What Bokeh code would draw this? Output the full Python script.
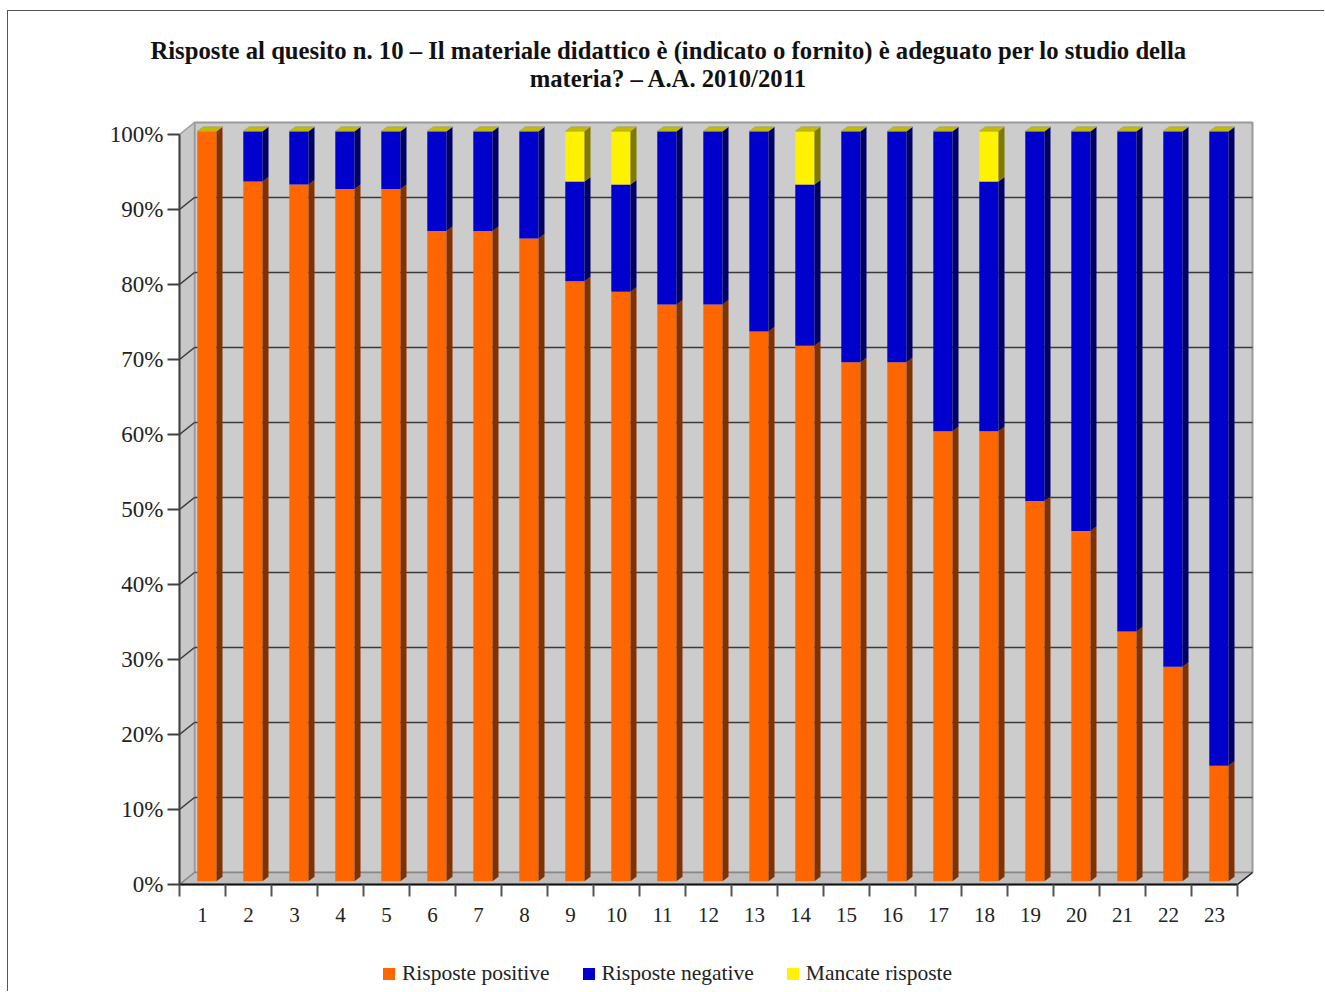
import numpy as np
from bokeh.plotting import figure
from bokeh.layouts import column
from bokeh.models import Range1d, FixedTicker, Label, Legend, LegendItem
from bokeh.embed import file_html
from bokeh.resources import INLINE

# ---------------- data ----------------
categories = list(range(1, 24))
positive = [100.0, 93.3, 92.9, 92.3, 92.3, 86.7, 86.7, 85.7, 80.0, 78.6, 76.9, 76.9,
            73.3, 71.4, 69.2, 69.2, 60.0, 60.0, 50.7, 46.7, 33.3, 28.6, 15.4]
negative = [0.0, 6.7, 7.1, 7.7, 7.7, 13.3, 13.3, 14.3, 13.3, 14.3, 23.1, 23.1,
            26.7, 21.5, 30.8, 30.8, 40.0, 33.3, 49.3, 53.3, 66.7, 71.4, 84.6]
missing = [0.0, 0.0, 0.0, 0.0, 0.0, 0.0, 0.0, 0.0, 6.7, 7.1, 0.0, 0.0,
           0.0, 7.1, 0.0, 0.0, 0.0, 6.7, 0.0, 0.0, 0.0, 0.0, 0.0]
series_names = ["Risposte positive", "Risposte negative", "Mancate risposte"]
y_ticks = [0, 10, 20, 30, 40, 50, 60, 70, 80, 90, 100]
y_tick_labels = [f"{v}%" for v in y_ticks]
title_lines = ["Risposte al quesito n. 10 \u2013 Il materiale didattico è (indicato o fornito) è adeguato per lo studio della",
               "materia? \u2013 A.A. 2010/2011"]

# ---------------- styling / geometry ----------------
FONT = "Liberation Serif"
front_cols = ["#FF6600", "#0000CC", "#FFF200"]
side_cols = ["#803300", "#000066", "#807900"]
cap_col = "#C4BA00"

PXX = 46.0   # px per category
PXY = 7.5    # px per percent
ORG_X, ORG_Y = 8, 11          # page position of the canvas origin
AXIS_X, AXIS_Y = 179, 884     # page position of the front axes corner
TICK_LEN = 12                 # x tick length below the front edge
W = 1316
H_MAIN, H_LEG = 927, 53
ML, MR, MT, MB = 90, 62, 3, 42
frame_w = W - ML - MR
frame_h = H_MAIN - MT - MB

DX, DY = 15 / PXX, 12 / PXY          # wall depth
FDX, FDY = 4.4 / PXX, 3.3 / PXY      # bar front face offset
SDX, SDY = 6 / PXX, 4.5 / PXY        # bar depth
HW = 9.6 / PXX                        # half bar width

n = len(categories)
x0, x1 = 0.5, n + 0.5
xstart = x0 - (AXIS_X - ORG_X - ML) / PXX
ystart = -TICK_LEN / PXY

p = figure(width=W, height=H_MAIN, output_backend="svg", toolbar_location=None,
           x_range=Range1d(xstart, xstart + frame_w / PXX),
           y_range=Range1d(ystart, ystart + frame_h / PXY),
           min_border_left=ML, min_border_right=MR, min_border_top=MT, min_border_bottom=MB,
           background_fill_color="white", border_fill_color="white",
           outline_line_color=None)
p.grid.visible = False

# walls
p.quad(left=[x0 + DX], right=[x1 + DX], bottom=[DY], top=[100 + DY],
       fill_color="#CCCCCC", line_color="#999999", line_width=2)
p.patch([x0, x0, x0 + DX, x0 + DX], [0, 100, 100 + DY, DY],
        fill_color="#C8C8C8", line_color="#999999", line_width=1.5)
p.patch([x0, x1, x1 + DX, x0 + DX], [0, 0, DY, DY],
        fill_color="#BEBEBE", line_color="#888888", line_width=1.5)
p.segment(x0=[x1], y0=[0], x1=[x1 + DX], y1=[DY], line_color="#222222", line_width=1.5)
# front edge of the floor (category axis line)
p.segment(x0=[x0], y0=[0], x1=[x1], y1=[0], line_color="#111111", line_width=2)

# gridlines (back wall + side wall)
gt = [v for v in y_ticks if 0 < v < 100]
p.segment(x0=[x0 + DX] * len(gt), y0=[v + DY for v in gt],
          x1=[x1 + DX] * len(gt), y1=[v + DY for v in gt],
          line_color="#3A3A3A", line_width=1.6)
p.segment(x0=[x0] * len(gt), y0=gt, x1=[x0 + DX] * len(gt), y1=[v + DY for v in gt],
          line_color="#3A3A3A", line_width=1.6)

# bars
xc = np.array(categories, dtype=float)
vals = [np.array(positive), np.array(negative), np.array(missing)]
bottom = np.zeros(n)
for k, v in enumerate(vals):
    top = bottom + v
    L = xc - HW + FDX
    R = xc + HW + FDX
    p.quad(left=L, right=R, bottom=bottom + FDY, top=top + FDY,
           fill_color=front_cols[k], line_color=None)
    xs, ys = [], []
    for i in range(n):
        if v[i] <= 0:
            continue
        xs.append([R[i], R[i] + SDX, R[i] + SDX, R[i]])
        ys.append([bottom[i] + FDY, bottom[i] + FDY + SDY, top[i] + FDY + SDY, top[i] + FDY])
    if xs:
        p.patches(xs, ys, fill_color=side_cols[k], line_color=None)
    bottom = top

# top caps
L = xc - HW + FDX
R = xc + HW + FDX
p.patches([[L[i], R[i], R[i] + SDX, L[i] + SDX] for i in range(n)],
          [[bottom[i] + FDY, bottom[i] + FDY, bottom[i] + FDY + SDY, bottom[i] + FDY + SDY] for i in range(n)],
          fill_color=cap_col, line_color="#9A9A60", line_width=0.5)

# axes
ya = p.yaxis[0]
ya.fixed_location = x0
ya.ticker = FixedTicker(ticks=y_ticks)
ya.major_label_overrides = {t: l for t, l in zip(y_ticks, y_tick_labels)}
ya.bounds = (0, 100)
ya.axis_line_color = "#404040"
ya.axis_line_width = 2
ya.major_tick_line_color = "#404040"
ya.major_tick_line_width = 2
ya.major_tick_out = 12
ya.major_tick_in = 0
ya.minor_tick_line_color = None
ya.major_label_standoff = 4
ya.major_label_text_font = FONT
ya.major_label_text_font_size = "23px"
ya.major_label_text_color = "#222222"

xa = p.xaxis[0]
xa.ticker = FixedTicker(ticks=categories, minor_ticks=[c - 0.5 for c in categories] + [categories[-1] + 0.5])
xa.bounds = (x0, x1)
xa.axis_line_color = None
xa.major_tick_line_color = None
xa.major_tick_out = 0
xa.major_tick_in = 0
xa.minor_tick_line_color = "#555555"
xa.minor_tick_line_width = 2
xa.minor_tick_out = 0
xa.minor_tick_in = TICK_LEN
xa.major_label_standoff = 11
xa.major_label_text_font = FONT
xa.major_label_text_font_size = "21px"
xa.major_label_text_color = "#222222"

# title (inside the extended frame, above the chart)
cx = x0 + (668 - AXIS_X) / PXX
for j, line in enumerate(title_lines):
    p.add_layout(Label(x=cx, y=(AXIS_Y - (50 + 28 * j)) / PXY, text=line,
                       text_font=FONT, text_font_style="bold", text_font_size="24.7px",
                       text_align="center", text_baseline="middle", text_color="#111111"))

# legend strip (its own small figure; proxies carry the series colours)
lf = figure(width=W, height=H_LEG, output_backend="svg", toolbar_location=None,
            x_range=Range1d(0, 1), y_range=Range1d(0, 1),
            min_border=0, x_axis_location=None, y_axis_location=None,
            background_fill_color="white", border_fill_color="white", outline_line_color=None)
lf.grid.visible = False
leg_renderers = []
for c in front_cols:
    r = lf.quad(left=[0], right=[0], bottom=[0], top=[0], fill_color=c, line_color=None)
    r.visible = False
    leg_renderers.append(r)
legend = Legend(items=[LegendItem(label=series_names[k], renderers=[leg_renderers[k]]) for k in range(3)],
                orientation="horizontal", location=(381 - ORG_X - ML, 5),
                glyph_width=15, glyph_height=15, label_standoff=6, spacing=31,
                padding=0, margin=0, border_line_color=None, background_fill_alpha=0,
                label_text_font=FONT, label_text_font_size="21.5px", label_text_color="#222222",
                label_height=15)
lf.add_layout(legend, "center")

layout = column(p, lf, spacing=0,
                styles={"margin-left": "7px", "margin-top": "10px",
                        "border-left": "1px solid #555555", "border-top": "1px solid #555555"})

open("out.html", "w").write(file_html(layout, INLINE))
